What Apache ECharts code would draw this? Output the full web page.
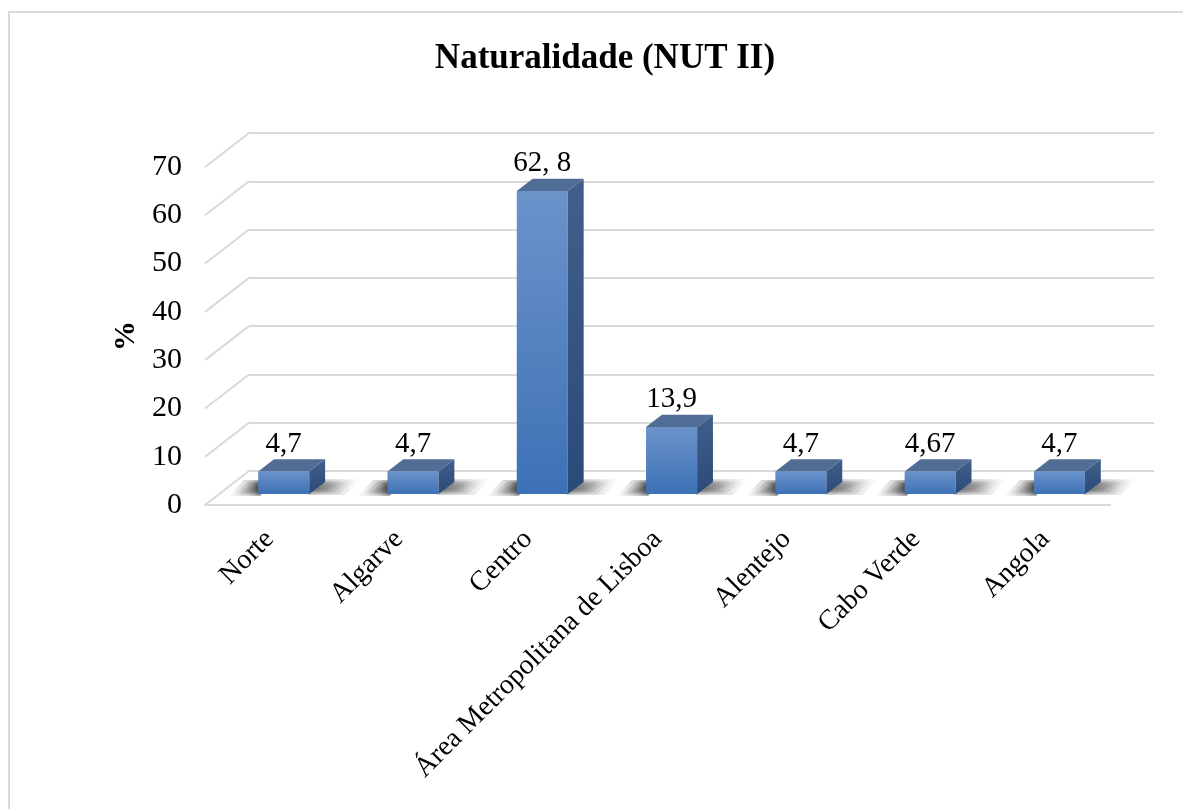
<!DOCTYPE html>
<html><head><meta charset="utf-8">
<script src="https://cdn.jsdelivr.net/npm/echarts@6/dist/echarts.min.js"></script>
<style>html,body{margin:0;padding:0;background:#fff}#c{width:1183px;height:809px}</style>
</head><body><div id="c"></div>
<script>
const categories = ['Norte', 'Algarve', 'Centro', 'Área Metropolitana de Lisboa', 'Alentejo', 'Cabo Verde', 'Angola'];
const values = [4.7, 4.7, 62.8, 13.9, 4.7, 4.67, 4.7];
const valueLabels = ['4,7', '4,7', '62, 8', '13,9', '4,7', '4,67', '4,7'];
const yTicks = [0, 10, 20, 30, 40, 50, 60, 70];

const FONT = '"Liberation Serif", "Times New Roman", serif';
const WALL_DX = 44, WALL_DY = -34;      // perspective offset front -> back wall
const FRONT_F = 0.32, BACK_F = 0.68;    // depth of bar front/back planes
const BAR_FRAC = 0.395;
const GRID_COLOR = '#d9d9d9';

const chart = echarts.init(document.getElementById('c'), null, { renderer: 'canvas' });

function hGrad(stops) {
  return { type: 'linear', x: 0, y: 0, x2: 1, y2: 0, colorStops: stops };
}

function barItem(params, api) {
  const idx = api.value(0);
  const v = api.value(1);
  const base = api.coord([idx, 0]);
  const topP = api.coord([idx, v]);
  const bw = api.size([1, 0])[0] * BAR_FRAC;
  const fx = WALL_DX * FRONT_F, fy = WALL_DY * FRONT_F;
  const ddx = WALL_DX * (BACK_F - FRONT_F), ddy = WALL_DY * (BACK_F - FRONT_F);
  const xl = base[0] - bw / 2 + fx, xr = base[0] + bw / 2 + fx;
  const yb = base[1] + fy, yt = topP[1] + fy;
  const children = [];
  const LS = 30, RS = 36;
  for (let k = 0; k < 4; k++) {
    const e = 1.6 * k;
    // left shadow layer (dark)
    children.push({
      type: 'polygon',
      shape: { points: [[xl - LS + 5 * k, yb + 2 - e], [xl + 2, yb + 2 - e], [xl + ddx + 2, yb + ddy - 2 + e], [xl + ddx - LS + 5 * k, yb + ddy - 2 + e]] },
      style: { fill: hGrad([
        { offset: 0, color: 'rgba(0,0,0,0)' },
        { offset: 0.45, color: 'rgba(0,0,0,0.18)' },
        { offset: 0.7, color: 'rgba(0,0,0,0.38)' },
        { offset: 1, color: 'rgba(0,0,0,0.4)' }]) }
    });
    // right shadow layer (light)
    children.push({
      type: 'polygon',
      shape: { points: [[xr - 2, yb + 1 - e], [xr + RS - 6 * k, yb + 1 - e], [xr + ddx + RS - 6 * k, yb + ddy - 3 + e], [xr + ddx - 2, yb + ddy - 3 + e]] },
      style: { fill: hGrad([
        { offset: 0, color: 'rgba(0,0,0,0.2)' },
        { offset: 0.5, color: 'rgba(0,0,0,0.12)' },
        { offset: 1, color: 'rgba(0,0,0,0)' }]) }
    });
  }
  children.push(
    { // front face
      type: 'rect',
      shape: { x: xl, y: yt, width: xr - xl, height: yb - yt },
      style: { fill: { type: 'linear', x: 0, y: 0, x2: 0, y2: 1, colorStops: [
        { offset: 0, color: '#6b93ca' }, { offset: 1, color: '#3d71b6' }] } }
    },
    { // side face
      type: 'polygon',
      shape: { points: [[xr, yt], [xr + ddx, yt + ddy], [xr + ddx, yb + ddy], [xr, yb]] },
      style: { fill: { type: 'linear', x: 0, y: 0, x2: 0, y2: 1, colorStops: [
        { offset: 0, color: '#415f8a' }, { offset: 1, color: '#2a4a79' }] } }
    },
    { // top face
      type: 'polygon',
      shape: { points: [[xl, yt], [xr, yt], [xr + ddx, yt + ddy], [xl + ddx, yt + ddy]] },
      style: { fill: '#516c95' }
    },
    { // value label
      type: 'text',
      style: {
        x: (xl + xr) / 2, y: yt + ddy - 15,
        text: valueLabels[params.dataIndex],
        fill: '#000', font: '29px ' + FONT,
        align: 'center', verticalAlign: 'middle'
      }
    }
  );
  return { type: 'group', children };
}

function diagItem(params, api) {
  const p = api.coord([0, api.value(1)]);
  const x0 = params.coordSys.x;
  return {
    type: 'line',
    shape: { x1: x0, y1: p[1], x2: x0 + WALL_DX, y2: p[1] + WALL_DY },
    style: { stroke: GRID_COLOR, lineWidth: 2 }
  };
}

const option = {
  animation: false,
  backgroundColor: '#fff',
  title: {
    text: 'Naturalidade (NUT II)',
    left: 600, top: 36, textAlign: 'center',
    textStyle: { fontFamily: FONT, fontSize: 35, fontWeight: 'bold', color: '#000' }
  },
  graphic: [{
    type: 'rect', silent: true, z: -10,
    shape: { x: 9, y: 12, width: 1200, height: 850 },
    style: { fill: 'none', stroke: GRID_COLOR, lineWidth: 2 }
  }],
  grid: [
    { left: 205, right: 73, top: 167, bottom: 304 },
    { left: 205 + WALL_DX, right: 73 - WALL_DX, top: 167 + WALL_DY, bottom: 304 - WALL_DY }
  ],
  xAxis: [
    {
      gridIndex: 0, type: 'category', data: categories, boundaryGap: true,
      axisLine: { show: true, lineStyle: { color: GRID_COLOR, width: 2 } },
      axisTick: { show: false },
      axisLabel: { interval: 0, rotate: 45, margin: 30, fontFamily: FONT, fontSize: 28, color: '#000' }
    },
    { gridIndex: 1, type: 'value', show: false, min: 0, max: 1 }
  ],
  yAxis: [
    {
      gridIndex: 0, type: 'value', min: 0, max: 70, interval: 10,
      axisLine: { show: false }, axisTick: { show: false }, splitLine: { show: false },
      axisLabel: { margin: 23, fontFamily: FONT, fontSize: 30, color: '#000' },
      name: '%', nameLocation: 'middle', nameGap: 60, nameRotate: 90,
      nameTextStyle: { fontFamily: FONT, fontSize: 30, fontWeight: 'bold', color: '#000' }
    },
    {
      gridIndex: 1, type: 'value', min: 0, max: 70, interval: 10,
      axisLine: { show: false }, axisTick: { show: false }, axisLabel: { show: false },
      splitLine: { show: true, lineStyle: { color: GRID_COLOR, width: 2 } }
    }
  ],
  series: [
    {
      type: 'custom', xAxisIndex: 0, yAxisIndex: 0, z: 1,
      renderItem: diagItem,
      data: yTicks.map(t => [0, t])
    },
    {
      type: 'custom', xAxisIndex: 0, yAxisIndex: 0, z: 2,
      renderItem: barItem,
      data: values.map((v, i) => [i, v])
    }
  ]
};
chart.setOption(option);
</script>
</body></html>
